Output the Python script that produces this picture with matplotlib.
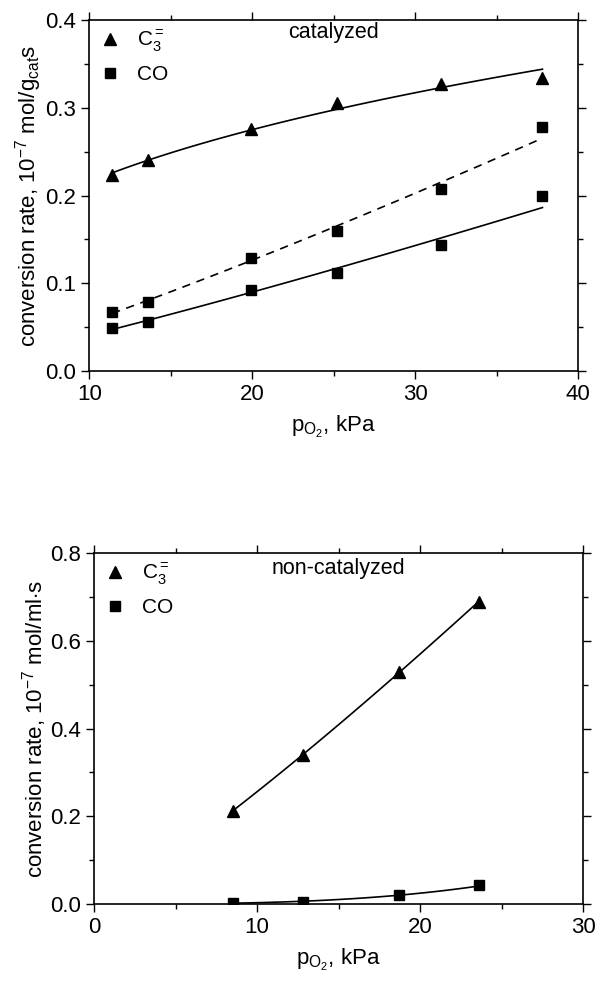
import numpy as np
import matplotlib
matplotlib.use("Agg")
import matplotlib.pyplot as plt
from matplotlib.ticker import MultipleLocator

plt.rcParams['font.family'] = ['Liberation Sans', 'DejaVu Sans']
plt.rcParams['mathtext.fontset'] = 'custom'
plt.rcParams['mathtext.rm'] = 'Liberation Sans'
plt.rcParams['mathtext.it'] = 'Liberation Sans'

# catalyzed
cat_p_c3 = [11.4, 13.6, 19.9, 25.2, 31.6, 37.8]
cat_c3 = [0.223, 0.240, 0.276, 0.306, 0.327, 0.334]
cat_p_co = [11.4, 13.6, 19.9, 25.2, 31.6, 37.8]
cat_co_a = [0.067, 0.079, 0.129, 0.160, 0.207, 0.278]
cat_co_b = [0.049, 0.056, 0.092, 0.112, 0.144, 0.199]

# non-catalyzed
non_p = [8.5, 12.8, 18.7, 23.6]
non_c3 = [0.212, 0.340, 0.529, 0.688]
non_co = [0.002, 0.005, 0.021, 0.043]


def power_fit(x, y):
    x = np.asarray(x)
    n, lna = np.polyfit(np.log(x), np.log(y), 1)
    xx = np.linspace(x.min(), x.max(), 100)
    return xx, np.exp(lna) * xx ** n


def style(ax, xmaj, xmin, ymaj, ymin):
    ax.xaxis.set_major_locator(MultipleLocator(xmaj))
    ax.xaxis.set_minor_locator(MultipleLocator(xmin))
    ax.yaxis.set_major_locator(MultipleLocator(ymaj))
    ax.yaxis.set_minor_locator(MultipleLocator(ymin))
    ax.tick_params(which='both', direction='out', top=True, right=True,
                   labelsize=16, width=1)
    ax.tick_params(which='major', length=6)
    ax.tick_params(which='minor', length=3.5)
    for s in ax.spines.values():
        s.set_linewidth(1.2)


def legend(ax):
    ax.legend(loc='upper left', frameon=False, fontsize=15, handletextpad=0.7,
              borderaxespad=0.0, borderpad=0.4, labelspacing=0.55,
              handlelength=1.2)


fig = plt.figure(figsize=(5.95, 9.83), dpi=100)

ax1 = fig.add_axes([0.150, 0.6226, 0.822, 0.357])
ax1.plot(cat_p_c3, cat_c3, '^', color='k', ms=8, label='C$_3^=$')
ax1.plot(cat_p_co, cat_co_a, 's', color='k', ms=6.5, label='CO')
ax1.plot(cat_p_co, cat_co_b, 's', color='k', ms=6.5)
ax1.plot(*power_fit(cat_p_c3, cat_c3), '-', color='k', lw=1.2)
ax1.plot(*power_fit(cat_p_co, cat_co_a), '--', color='k', lw=1.2, dashes=(5, 4))
ax1.plot(*power_fit(cat_p_co, cat_co_b), '-', color='k', lw=1.2)
ax1.set_xlim(10, 40)
ax1.set_ylim(0, 0.4)
style(ax1, 10, 5, 0.1, 0.05)
ax1.set_xlabel('p$_{\\mathregular{O_2}}$, kPa', fontsize=16, labelpad=6)
ax1.set_ylabel('conversion rate, 10$^{-7}$ mol/g$_{\\mathregular{cat}}$s', fontsize=16,
               labelpad=1)
ax1.text(0.5, 0.965, 'catalyzed', transform=ax1.transAxes, ha='center',
         va='center', fontsize=15.5)
legend(ax1)

ax2 = fig.add_axes([0.158, 0.0804, 0.822, 0.357])
ax2.plot(non_p, non_c3, '^', color='k', ms=8, label='C$_3^=$')
ax2.plot(non_p, non_co, 's', color='k', ms=6.5, label='CO')
ax2.plot(*power_fit(non_p, non_c3), '-', color='k', lw=1.2)
ax2.plot(*power_fit(non_p, non_co), '-', color='k', lw=1.2)
ax2.set_xlim(0, 30)
ax2.set_ylim(0, 0.8)
style(ax2, 10, 5, 0.2, 0.1)
ax2.set_xlabel('p$_{\\mathregular{O_2}}$, kPa', fontsize=16, labelpad=6)
ax2.set_ylabel('conversion rate, 10$^{-7}$ mol/ml$\\cdot$s', fontsize=16,
               labelpad=1)
ax2.text(0.5, 0.957, 'non-catalyzed', transform=ax2.transAxes, ha='center',
         va='center', fontsize=15.5)
legend(ax2)

fig.savefig('out.png', dpi=100)
